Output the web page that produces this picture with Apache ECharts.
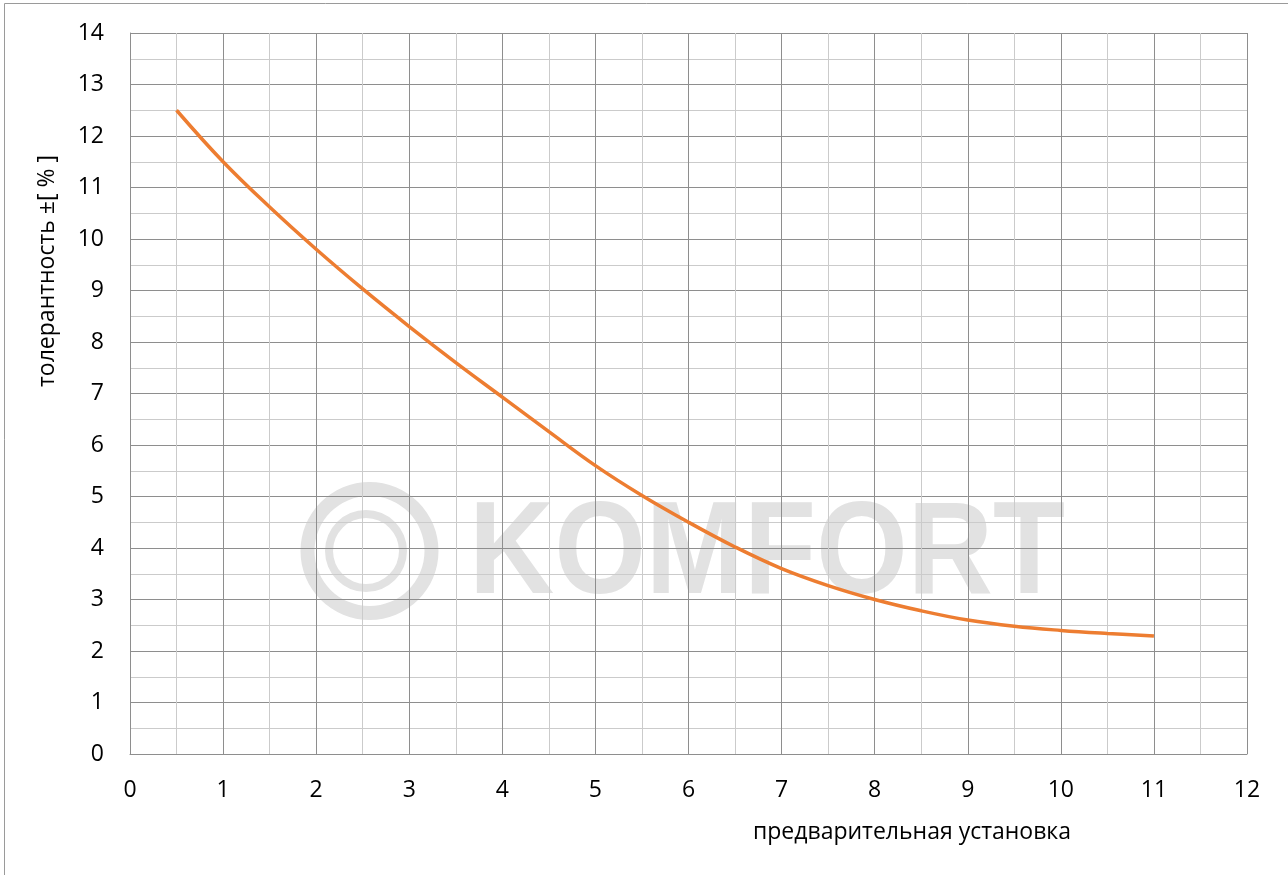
<!DOCTYPE html>
<html>
<head>
<meta charset="utf-8">
<script src="https://cdn.jsdelivr.net/npm/echarts@6/dist/echarts.min.js"></script>
<style>
  html, body { margin: 0; padding: 0; background: #fff; }
  #chart { width: 1288px; height: 875px; }
</style>
</head>
<body>
<div id="chart"></div>
<script>
// Data
const presetting = [0.5, 1, 1.5, 2, 2.5, 3, 3.5, 4, 4.5, 5, 5.5, 6, 6.5, 7, 7.5, 8, 8.5, 9, 9.5, 10, 10.5, 11];
const tolerance  = [12.5, 11.5, 10.62, 9.8, 9.03, 8.3, 7.6, 6.93, 6.26, 5.6, 5.02, 4.5, 4.02, 3.6, 3.27, 3.0, 2.78, 2.6, 2.48, 2.4, 2.34, 2.29];
const xTitle = 'предварительная установка';
const yTitle = 'толерантность ±[ % ]';
const watermark = 'KOMFORT';

const FONT = '"Open Sans", "Noto Sans", sans-serif';
const MAJOR = '#8e8e8e';
const MINOR = '#cbcbcb';

const chart = echarts.init(document.getElementById('chart'), null, { renderer: 'canvas' });

const option = {
  backgroundColor: '#ffffff',
  animation: false,
  grid: { left: 130, right: 41, top: 33, bottom: 121, containLabel: false },
  xAxis: {
    type: 'value', min: 0, max: 12, interval: 1,
    axisLine: { show: true, lineStyle: { color: MAJOR, width: 1 } },
    axisTick: { show: false },
    axisLabel: { color: '#000', fontFamily: FONT, fontSize: 23, margin: 25 },
    splitLine: { show: true, lineStyle: { color: MAJOR, width: 1 } },
    minorTick: { show: false, splitNumber: 2 },
    minorSplitLine: { show: true, lineStyle: { color: MINOR, width: 1 } }
  },
  yAxis: {
    type: 'value', min: 0, max: 14, interval: 1,
    axisLine: { show: true, lineStyle: { color: MAJOR, width: 1 } },
    axisTick: { show: false },
    axisLabel: { color: '#000', fontFamily: FONT, fontSize: 23, margin: 26 },
    splitLine: { show: true, lineStyle: { color: MAJOR, width: 1 } },
    minorTick: { show: false, splitNumber: 2 },
    minorSplitLine: { show: true, lineStyle: { color: MINOR, width: 1 } }
  },
  graphic: [
    { type: 'rect', z: -20, silent: true,
      shape: { x: 4.5, y: 3.5, width: 1300, height: 900 },
      style: { fill: null, stroke: '#9a9a9a', lineWidth: 1 } },
    { type: 'ring', z: -10, silent: true,
      shape: { cx: 369.5, cy: 551, r: 69, r0: 55 },
      style: { fill: '#e2e2e2' } },
    { type: 'ring', z: -10, silent: true,
      shape: { cx: 366, cy: 551, r: 41, r0: 33 },
      style: { fill: '#e2e2e2' } },
    { type: 'text', z: -10, silent: true,
      x: 469, y: 557, scaleX: 0.9, originX: 0, originY: 0,
      style: { text: watermark, fill: '#e2e2e2',
        font: 'bold 131px "Liberation Sans", Arial, sans-serif',
        textAlign: 'left', textVerticalAlign: 'middle' } },
    { type: 'text', z: 10, silent: true,
      x: 912, y: 832,
      style: { text: xTitle, fill: '#000', font: '23px ' + FONT,
        textAlign: 'center', textVerticalAlign: 'middle' } },
    { type: 'text', z: 10, silent: true,
      x: 47, y: 271, rotation: Math.PI / 2,
      style: { text: yTitle, fill: '#000', font: '23px ' + FONT,
        textAlign: 'center', textVerticalAlign: 'middle' } }
  ],
  series: [{
    type: 'line',
    data: presetting.map((x, i) => [x, tolerance[i]]),
    smooth: 0.4,
    showSymbol: false,
    symbol: 'none',
    lineStyle: { color: '#ED7D31', width: 3.5 },
    z: 5
  }]
};

chart.setOption(option);
</script>
</body>
</html>
